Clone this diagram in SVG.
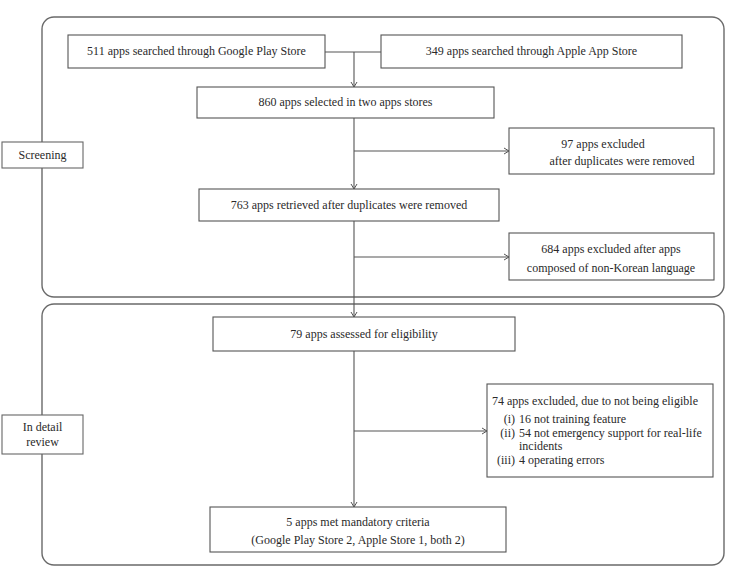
<svg xmlns="http://www.w3.org/2000/svg" width="729" height="567" viewBox="0 0 729 567">
<style>
.cont{fill:none;stroke:#6a6a6a;stroke-width:1.4}
.box{fill:#fff;stroke:#555;stroke-width:1.1}
.lbl{fill:#fff;stroke:#666;stroke-width:1.1}
.ln{fill:none;stroke:#555;stroke-width:1.1}
.t{font-family:"Liberation Serif","DejaVu Serif",serif;font-size:12px;fill:#2a2a2a}
.c{text-anchor:middle}
.e{text-anchor:end}
</style>
<defs>
<marker id="arr" markerWidth="8" markerHeight="8" refX="6" refY="4" orient="auto" markerUnits="userSpaceOnUse">
<path d="M1,1 L6,4 L1,7" fill="none" stroke="#555" stroke-width="1"/>
</marker>
</defs>
<g id="containers">
<rect class="cont" x="42" y="17" width="682" height="280" rx="12"/>
<rect class="cont" x="42" y="304" width="682" height="261" rx="12"/>
</g>
<g id="connectors">
<path class="ln" d="M325,52 H381"/>
<path class="ln" d="M354,52 V87" marker-end="url(#arr)"/>
<path class="ln" d="M354,118 V189" marker-end="url(#arr)"/>
<path class="ln" d="M354,151 H509" marker-end="url(#arr)"/>
<path class="ln" d="M354,221 V317" marker-end="url(#arr)"/>
<path class="ln" d="M354,257 H509" marker-end="url(#arr)"/>
<path class="ln" d="M354,351 V507" marker-end="url(#arr)"/>
<path class="ln" d="M354,431 H487" marker-end="url(#arr)"/>
</g>
<g class="t">
<g id="screening">
<rect class="lbl" x="2" y="142" width="81" height="26"/>
<text class="c" x="42.5" y="159">Screening</text>
</g>
<g id="review">
<rect class="lbl" x="2" y="415" width="81" height="39"/>
<text class="c" x="42.5" y="431">In detail</text>
<text class="c" x="42.5" y="446">review</text>
</g>
<g id="google">
<rect class="box" x="68" y="35" width="257" height="33"/>
<text class="c" x="196.5" y="55">511 apps searched through Google Play Store</text>
</g>
<g id="apple">
<rect class="box" x="381" y="35" width="301" height="33"/>
<text class="c" x="531.5" y="55">349 apps searched through Apple App Store</text>
</g>
<g id="selected">
<rect class="box" x="197" y="87" width="297" height="31"/>
<text class="c" x="345.5" y="106">860 apps selected in two apps stores</text>
</g>
<g id="excluded97">
<rect class="box" x="509" y="128" width="205" height="46"/>
<text class="c" x="603" y="148">97 apps excluded</text>
<text class="c" x="622" y="165">after duplicates were removed</text>
</g>
<g id="retrieved">
<rect class="box" x="199" y="189" width="300" height="32"/>
<text class="c" x="349" y="209">763 apps retrieved after duplicates were removed</text>
</g>
<g id="excluded684">
<rect class="box" x="509" y="233" width="205" height="47"/>
<text class="c" x="611" y="253">684 apps excluded after apps</text>
<text class="c" x="611" y="272">composed of non-Korean language</text>
</g>
<g id="assessed">
<rect class="box" x="213" y="317" width="302" height="34"/>
<text class="c" x="364" y="338">79 apps assessed for eligibility</text>
</g>
<g id="excluded74">
<rect class="box" x="487" y="384" width="226" height="93"/>
<text x="492" y="405">74 apps excluded, due to not being eligible</text>
<text class="e" x="515" y="423">(i)</text>
<text x="519" y="423">16 not training feature</text>
<text class="e" x="515" y="437">(ii)</text>
<text x="519" y="437">54 not emergency support for real-life</text>
<text x="519" y="450">incidents</text>
<text class="e" x="515" y="464">(iii)</text>
<text x="519" y="464">4 operating errors</text>
</g>
<g id="met">
<rect class="box" x="210" y="507" width="296" height="45"/>
<text class="c" x="358" y="526">5 apps met mandatory criteria</text>
<text class="c" x="358" y="544">(Google Play Store 2, Apple Store 1, both 2)</text>
</g>
</g>
</svg>
